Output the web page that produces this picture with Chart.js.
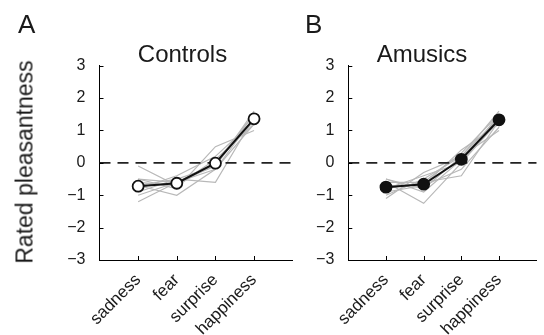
<!DOCTYPE html>
<html lang="en">
<head>
  <meta charset="UTF-8">
  <title>Rated pleasantness</title>
  <script src="https://cdn.jsdelivr.net/npm/chart.js"></script>
  <style>
    body { margin: 0; background: #fff; font-family: 'Liberation Sans', Arial, sans-serif; color: #1a1a1a; }
    #page { position: relative; width: 544px; height: 335px; overflow: hidden; }
    .panel { position: absolute; top: 0; height: 335px; }
    #panelA { left: 0; width: 300px; }
    #panelB { left: 300px; width: 244px; }
    .txt { position: absolute; line-height: 1; white-space: nowrap; }
    .letter { font-size: 26px; }
    .title { font-size: 24px; transform: translateX(-50%); }
    #ytitle { font-size: 23px; left: 25px; top: 161.5px; transform: translate(-50%, -50%) rotate(-90deg); }
  </style>
</head>
<body>
<div id="page">
  <div class="panel" id="panelA"><canvas id="chartA"></canvas></div>
  <div class="panel" id="panelB"><canvas id="chartB"></canvas></div>
  <div class="txt letter" style="left:18px; top:11px;">A</div>
  <div class="txt letter" style="left:305px; top:11px;">B</div>
  <div class="txt title" style="left:182.5px; top:41.5px;">Controls</div>
  <div class="txt title" style="left:422px; top:41.5px;">Amusics</div>
  <div class="txt" id="ytitle">Rated pleasantness</div>
</div>
<script>
  // emotion categories, plotted at x = 1..4 on a 0..5 axis
  const categories = ['sadness', 'fear', 'surprise', 'happiness'];
  const yTicks = [-3, -2, -1, 0, 1, 2, 3];
  const xRange = [0, 5];
  const refValue = 0;

  // group means
  const controlsMean = [-0.72, -0.63, -0.01, 1.36];
  const amusicsMean = [-0.75, -0.66, 0.11, 1.33];

  // individual participants (grey lines)
  const controlsSubjects = [
    [-0.1, -0.7, 0.0, 1.3],
    [-1.2, -0.6, -0.1, 1.5],
    [-0.5, -0.8, 0.5, 1.0],
    [-0.7, -1.0, -0.2, 1.2],
    [-0.9, -0.5, -0.6, 1.4],
    [-0.6, -0.7, 0.1, 1.2],
    [-1.0, -0.6, -0.2, 1.4],
    [-0.5, -0.6, 0.0, 1.5],
    [-0.8, -0.4, 0.2, 1.3],
    [-0.7, -0.5, -0.1, 1.6]
  ];
  const amusicsSubjects = [
    [-0.5, -0.9, 0.1, 1.4],
    [-1.1, -0.3, 0.2, 1.0],
    [-0.6, -1.25, 0.0, 1.5],
    [-0.8, -0.6, -0.4, 1.3],
    [-0.7, -0.7, 0.4, 1.2],
    [-1.0, -0.5, 0.2, 1.4],
    [-0.9, -0.7, -0.2, 1.1],
    [-0.6, -0.6, 0.3, 1.5],
    [-0.8, -0.4, 0.0, 1.3],
    [-0.5, -0.8, 0.2, 1.6]
  ];

  const toPoints = vals => vals.map((v, i) => ({ x: i + 1, y: v }));

  // small inward tick marks, like the original figure
  const inwardTicks = {
    id: 'inwardTicks',
    afterDraw(chart) {
      const { ctx, chartArea, scales } = chart;
      ctx.save();
      ctx.strokeStyle = '#000';
      ctx.lineWidth = 1;
      ctx.beginPath();
      scales.y.ticks.forEach(t => {
        const py = Math.round(scales.y.getPixelForValue(t.value)) + 0.5;
        ctx.moveTo(chartArea.left, py);
        ctx.lineTo(chartArea.left + 4, py);
      });
      scales.x.ticks.forEach(t => {
        const px = Math.round(scales.x.getPixelForValue(t.value)) + 0.5;
        ctx.moveTo(px, chartArea.bottom);
        ctx.lineTo(px, chartArea.bottom - 4);
      });
      ctx.stroke();
      ctx.restore();
    }
  };

  function makePanel(id, subjects, mean, markerFill, padLeft, padRight) {
    const datasets = subjects.map(s => ({
      data: toPoints(s),
      borderColor: '#b8b8b8',
      borderWidth: 1.2,
      pointRadius: 0,
      order: 3
    }));
    datasets.push({
      data: [{ x: xRange[0], y: refValue }, { x: xRange[1], y: refValue }],
      borderColor: '#222',
      borderWidth: 1.6,
      borderDash: [11, 7],
      pointRadius: 0,
      order: 2
    });
    datasets.push({
      data: toPoints(mean),
      borderColor: '#111',
      borderWidth: 2,
      pointRadius: 5.5,
      pointBorderWidth: 1.8,
      pointBackgroundColor: markerFill,
      pointBorderColor: '#111',
      order: 1
    });

    new Chart(document.getElementById(id), {
      type: 'line',
      data: { datasets },
      options: {
        responsive: true,
        maintainAspectRatio: false,
        animation: false,
        layout: { padding: { left: padLeft, right: padRight, top: 65.7, bottom: 0 } },
        plugins: { legend: { display: false }, tooltip: { enabled: false } },
        scales: {
          x: {
            type: 'linear',
            min: xRange[0],
            max: xRange[1],
            grid: { display: false },
            border: { display: true, color: '#000', width: 1 },
            afterBuildTicks: scale => { scale.ticks = categories.map((c, i) => ({ value: i + 1 })); },
            afterFit: scale => { scale.height = 75; },
            ticks: {
              autoSkip: false,
              minRotation: 45,
              maxRotation: 45,
              padding: 2,
              color: '#1a1a1a',
              font: { family: 'Liberation Sans', size: 17 },
              callback: v => categories[v - 1]
            }
          },
          y: {
            min: yTicks[0],
            max: yTicks[yTicks.length - 1],
            grid: { display: false },
            border: { display: true, color: '#000', width: 1 },
            afterBuildTicks: scale => { scale.ticks = yTicks.map(v => ({ value: v })); },
            afterFit: scale => { scale.width = 40; },
            ticks: {
              padding: 6,
              color: '#1a1a1a',
              font: { family: 'Liberation Sans', size: 16 },
              callback: v => String(v).replace('-', '\u2212')
            }
          }
        }
      },
      plugins: [inwardTicks]
    });
  }

  makePanel('chartA', controlsSubjects, controlsMean, '#fff', 59.5, 3.3);
  makePanel('chartB', amusicsSubjects, amusicsMean, '#111', 8.3, 0);
</script>
</body>
</html>
